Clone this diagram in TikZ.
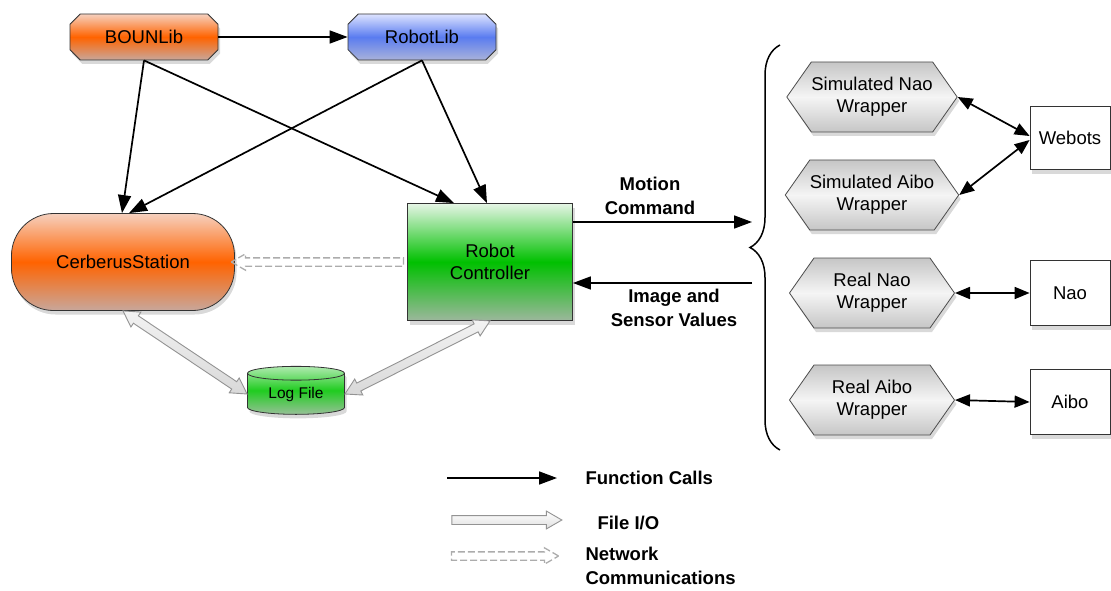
\documentclass[tikz,border=0pt]{standalone}
\usepackage{fontspec}
\setmainfont{Liberation Sans}
\usetikzlibrary{shapes.geometric,shapes.misc,shapes.symbols,shapes.arrows,arrows.meta,calc,shadows,decorations.pathreplacing}
\definecolor{orA}{HTML}{F6D0BE}
\definecolor{orB}{HTML}{FF6300}
\definecolor{orC}{HTML}{C8A79B}
\definecolor{blA}{HTML}{DDE3FF}
\definecolor{blB}{HTML}{5A7CF0}
\definecolor{blC}{HTML}{A9B2DA}
\definecolor{grA}{HTML}{E6F5E6}
\definecolor{grB}{HTML}{00C000}
\definecolor{grC}{HTML}{9CB79C}
\definecolor{lfA}{HTML}{B0EAB0}
\definecolor{lfB}{HTML}{20CC20}
\definecolor{lfC}{HTML}{98C098}
\newcommand{\fatarr}[3]{%
  \path let \p1=($(#3)-(#2)$), \n1={atan2(\y1,\x1)}, \n2={veclen(\x1,\y1)} in
    node[#1, rotate=\n1, minimum height=\n2] at ($(#2)!0.5!(#3)$) {};}
\begin{document}
\begin{tikzpicture}[x=1pt,y=-1pt,
  txt/.style={font=\fontsize{18.5}{22}\selectfont},
  btxt/.style={font=\bfseries\fontsize{18.5}{24}\selectfont},
  shad/.style={drop shadow={opacity=0.3,shadow xshift=2pt,shadow yshift=-4pt}},
  lib/.style={chamfered rectangle, chamfered rectangle xsep=8pt, draw=black!80, line width=0.8pt,
    minimum width=148pt, minimum height=46pt, inner sep=0pt, txt, shad},
  orangefill/.style={top color=orA, bottom color=orC, middle color=orB},
  bluefill/.style={top color=blA, bottom color=blC, middle color=blB},
  hexa/.style={signal, signal to=west and east, signal pointer angle=110, draw=black!70, line width=0.8pt,
    minimum width=165pt, minimum height=70pt, inner sep=0pt, align=center, txt,
    top color=gray!45, bottom color=gray!45, middle color=gray!8, shad},
  dev/.style={rectangle, draw=black!80, line width=0.8pt, fill=white, minimum width=80pt, inner sep=0pt, txt, shad},
  call/.style={line width=1.7pt, -{Triangle[length=18pt,width=13pt]}},
  bicall/.style={line width=1.7pt, {Triangle[length=15pt,width=12pt]}-{Triangle[length=15pt,width=12pt]}},
  fileio/.style={double arrow, double arrow tip angle=60, double arrow head extend=4.5pt, double arrow head indent=0pt,
    inner sep=4pt, draw=gray!85, top color=gray!10, bottom color=gray!30, line width=0.9pt},
  fileone/.style={single arrow, single arrow tip angle=60, single arrow head extend=4.5pt, single arrow head indent=0pt,
    inner sep=4pt, draw=gray!85, top color=white, bottom color=gray!25, line width=0.9pt},
  net/.style={single arrow, single arrow tip angle=60, single arrow head extend=4pt, single arrow head indent=0pt,
    inner sep=3.5pt, draw=gray!65, line width=1.3pt, dash pattern=on 7pt off 3pt}
]
\useasboundingbox (0,0) rectangle (1111,591);

% top libraries
\node[lib, orangefill] (bl) at (144,37) {BOUNLib};
\node[lib, bluefill] (rl) at (422,37) {RobotLib};

% main nodes
\node[rectangle, rounded corners=42pt, draw=black!80, line width=0.8pt, minimum width=223pt, minimum height=97pt,
  orangefill, txt, shad] (cer) at (123,262) {CerberusStation};
\node[rectangle, draw=black!80, line width=0.8pt, minimum width=165pt, minimum height=117pt, align=center,
  top color=grA, bottom color=grC, middle color=grB, txt, shad] (rc) at (490,262) {Robot\\Controller};
\node[cylinder, shape border rotate=90, aspect=0.25, draw=black!80, line width=0.8pt, minimum width=97pt,
  minimum height=48pt, inner sep=0pt, top color=lfA, bottom color=lfC, middle color=lfB,
  font=\fontsize{15.5}{18}\selectfont, shad] (log) at (296,394) {Log File};

% function calls
\draw[call] (bl.east) -- (rl.west);
\draw[call] (bl.south) -- ([xshift=-1pt]cer.north);
\draw[call] (bl.south) -- ([xshift=-36pt]rc.north);
\draw[call] (rl.south) -- ([xshift=6pt]cer.north);
\draw[call] (rl.south) -- ([xshift=-3pt]rc.north);

% network and file I/O
\fatarr{net}{rc.west}{cer.east}
\fatarr{fileio}{cer.south}{log.west}
\fatarr{fileio}{rc.south}{log.east}

% brace and motion arrows
\draw[line width=1.5pt, decorate, decoration={brace, amplitude=30pt, aspect=0.5}] (780,450) -- (780,45);
\coordinate (bm) at (752,222);
\coordinate (bi) at (752,283);
\draw[call] ([yshift=40pt]rc.east) -- (bm);
\draw[call] (bi) -- ([yshift=-21pt]rc.east);
\node[btxt, align=center] (lm) at (650,196) {Motion\\Command};
\node[btxt, align=center] (li) at (674,308) {Image and\\Sensor Values};

% wrappers
\node[hexa] (snao) at (872,97) {Simulated Nao\\Wrapper};
\node[hexa] (saibo) at (872,195) {Simulated Aibo\\Wrapper};
\node[hexa] (rnao) at (872,293) {Real Nao\\Wrapper};
\node[hexa] (raibo) at (872,400) {Real Aibo\\Wrapper};

\node[dev, minimum height=63pt] (web) at (1070,138) {Webots};
\node[dev, minimum height=65pt] (nao) at (1070,293) {Nao};
\node[dev, minimum height=65pt] (aibo) at (1070,402) {Aibo};

\draw[bicall] (snao.east) -- ([yshift=2pt]web.west);
\draw[bicall] (saibo.east) -- ([yshift=-2pt]web.west);
\draw[bicall] (rnao.east) -- (nao.west);
\draw[bicall] (raibo.east) -- (aibo.west);

% legend
\coordinate (l1a) at (447,478); \coordinate (l1b) at (557,478);
\coordinate (l2a) at (448,520); \coordinate (l2b) at (558,520);
\coordinate (l3a) at (448,556); \coordinate (l3b) at (555,556);
\draw[call] (l1a) -- (l1b);
\fatarr{fileone}{l2a}{l2b}
\fatarr{net}{l3a}{l3b}
\node[btxt, anchor=west] (t1) at (582,478) {Function Calls};
\node[btxt, anchor=west] (t2) at (594,523) {File I/O};
\node[btxt, anchor=west, align=left] (t3) at (582,566) {Network\\Communications};
\end{tikzpicture}
\end{document}
